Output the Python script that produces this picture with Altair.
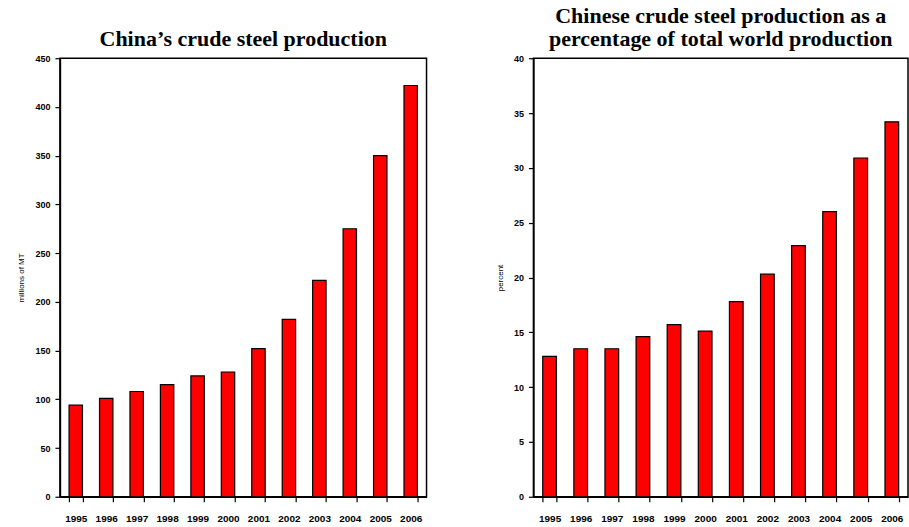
import altair as alt
import pandas as pd

years = ["1995", "1996", "1997", "1998", "1999", "2000", "2001", "2002", "2003", "2004", "2005", "2006"]
production = [94, 101, 108, 115, 124, 128, 152, 182, 222, 275, 350, 422]
share_pct = [12.8, 13.5, 13.5, 14.6, 15.7, 15.1, 17.8, 20.3, 22.9, 26.0, 30.9, 34.2]

left_title = "China\u2019s crude steel production"
right_title = ["Chinese crude steel production as a", "percentage of total world production"]
left_ytitle = "millions of MT"
right_ytitle = "percent"

df1 = pd.DataFrame({"year": years, "value": production})
df2 = pd.DataFrame({"year": years, "value": share_pct})

def panel(df, title, ytitle, ymax, step, w, fs):
    return alt.Chart(df, title=alt.TitleParams(title, font="Liberation Serif", fontSize=fs,
                                               fontWeight="bold", color="black", offset=3,
                                               lineHeight=23)).mark_bar(
        color="#ff0000", stroke="black", strokeWidth=1.2
    ).encode(
        x=alt.X("year:N", title=None, sort=years,
                scale=alt.Scale(paddingInner=0.56, paddingOuter=0.3),
                axis=alt.Axis(labelAngle=0, labelFont="Liberation Sans", labelFontSize=10,
                              labelFontWeight="bold", labelColor="black", domainColor="black",
                              domainWidth=1.5, tickColor="black", tickBand="extent", tickSize=5,
                              tickWidth=1.2, labelPadding=12)),
        y=alt.Y("value:Q", title=ytitle,
                scale=alt.Scale(domain=[0, ymax], nice=False),
                axis=alt.Axis(values=list(range(0, ymax + 1, step)), grid=False,
                              labelFont="Liberation Sans", labelFontSize=9, labelFontWeight="bold",
                              labelColor="black", domainColor="black", domainWidth=1.5,
                              tickColor="black", tickSize=5, tickWidth=1.2, labelPadding=5,
                              titleFont="Liberation Sans", titleFontSize=8, titleFontWeight="normal",
                              titleColor="black", titlePadding=9)),
    ).properties(width=w, height=439)

left = panel(df1, left_title, left_ytitle, 450, 50, 367, 22)
right = panel(df2, right_title, right_ytitle, 40, 5, 375, 22)

chart = alt.hconcat(left, right, spacing=68).properties(
    padding={"left": 17, "top": 4, "right": 0, "bottom": 0}, background="white"
).configure_view(stroke="black", strokeWidth=1.5)

chart.save("out.html", embed_options={"renderer": "svg", "actions": False})
